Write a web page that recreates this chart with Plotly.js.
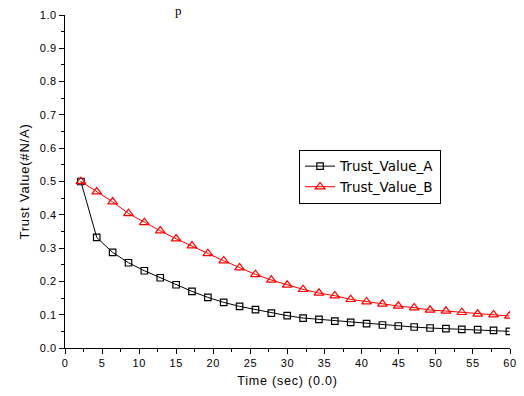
<!DOCTYPE html>
<html><head><meta charset="utf-8">
<script src="https://cdn.plot.ly/plotly-3.0.1.min.js"></script>
<style>
html,body{margin:0;padding:0;background:#fff;}
#chart{width:524px;height:396px;}
#chart .xtitle, #chart .ytitle{letter-spacing:0.8px;}
#chart .xtick text, #chart .ytick text{letter-spacing:0.6px;}
</style>
</head><body><div id="chart"></div>
<script>
const timeSec = [2.14, 4.28, 6.42, 8.56, 10.70, 12.84, 14.98, 17.12, 19.26, 21.40, 23.54, 25.68, 27.82, 29.96,
                 32.10, 34.24, 36.38, 38.52, 40.66, 42.80, 44.94, 47.08, 49.22, 51.36, 53.50, 55.64, 57.78, 59.92];
const trustA = [0.500, 0.332, 0.287, 0.256, 0.232, 0.211, 0.190, 0.170, 0.152, 0.137, 0.125, 0.115, 0.105, 0.097,
                0.090, 0.086, 0.081, 0.077, 0.073, 0.069, 0.066, 0.063, 0.060, 0.058, 0.056, 0.055, 0.053, 0.050];
const trustB = [0.500, 0.469, 0.439, 0.404, 0.377, 0.352, 0.328, 0.307, 0.284, 0.262, 0.241, 0.221, 0.204, 0.189,
                0.176, 0.165, 0.157, 0.146, 0.139, 0.132, 0.126, 0.121, 0.114, 0.111, 0.107, 0.102, 0.100, 0.096];
const seriesNames = ["Trust_Value_A", "Trust_Value_B"];

const sans = "Liberation Sans, Arial, sans-serif";
const tickFont = {family: sans, size: 11, color: "#000"};

const traces = [
  {x: timeSec, y: trustA, name: seriesNames[0], type: "scatter", mode: "lines+markers",
   line: {color: "#000000", width: 1},
   marker: {symbol: "square-open", size: 6.5, color: "#000000", line: {width: 1.2}}},
  {x: timeSec, y: trustB, name: seriesNames[1], type: "scatter", mode: "lines+markers",
   line: {color: "#ff0000", width: 1},
   marker: {symbol: "triangle-up-open", size: 8.5, color: "#ff0000", line: {width: 1.2}}}
];

const layout = {
  width: 524, height: 396,
  margin: {l: 65, r: 14, t: 15, b: 48},
  paper_bgcolor: "#fff", plot_bgcolor: "#fff",
  showlegend: true,
  legend: {x: 0.526, y: 0.595, xanchor: "left", yanchor: "top",
           bordercolor: "#000", borderwidth: 1, bgcolor: "#fff",
           font: {family: "DejaVu Sans, Arial, sans-serif", size: 13.5, color: "#000"},
           tracegroupgap: 0, itemwidth: 30},
  xaxis: {range: [0, 60], dtick: 5, tick0: 0, showgrid: false, zeroline: false,
          showline: true, linecolor: "#000", linewidth: 1,
          ticks: "outside", ticklen: 5, tickcolor: "#000", tickwidth: 1,
          minor: {dtick: 2.5, ticks: "outside", ticklen: 3, tickcolor: "#000", showgrid: false},
          tickfont: tickFont,
          title: {text: "Time (sec) (0.0)", font: {family: sans, size: 12.5, color: "#000"}, standoff: 8}},
  yaxis: {range: [0, 1], dtick: 0.1, tick0: 0, tickformat: ".1f", showgrid: false, zeroline: false,
          showline: true, linecolor: "#000", linewidth: 1,
          ticks: "outside", ticklen: 5, tickcolor: "#000", tickwidth: 1,
          minor: {dtick: 0.05, ticks: "outside", ticklen: 3, tickcolor: "#000", showgrid: false},
          tickfont: tickFont,
          title: {text: "Trust Value(#N/A)", font: {family: sans, size: 13, color: "#000"}, standoff: 8}},
  shapes: [
    {type: "rect", xref: "paper", yref: "paper",
     x0: (305 - 65) / 445, x1: (339 - 65) / 445, y0: (348 - 172) / 333, y1: (348 - 153) / 333,
     line: {color: "#ff0000", width: 1}, fillcolor: "rgba(0,0,0,0)"}
  ],
  annotations: [
    {text: "p", xref: "paper", yref: "paper", x: (178 - 65) / 445, y: (348 - 1) / 333,
     xanchor: "center", yanchor: "top", showarrow: false,
     font: {family: "Liberation Serif, serif", size: 13, color: "#000"}}
  ]
};

Plotly.newPlot("chart", traces, layout, {displayModeBar: false, staticPlot: true});
</script>
</body></html>
